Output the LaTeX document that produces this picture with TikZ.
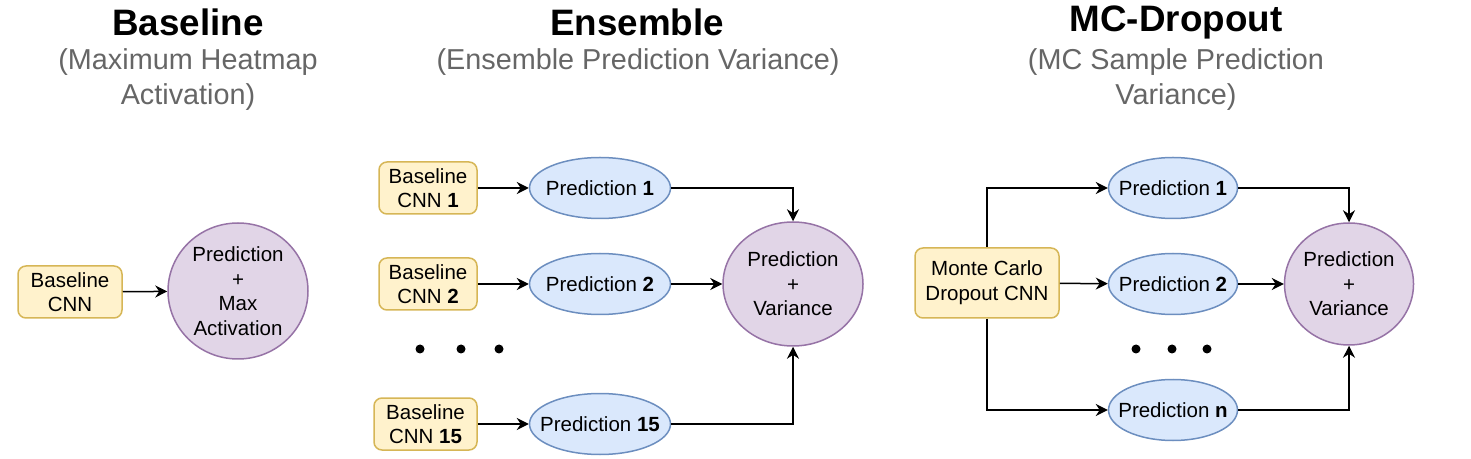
\documentclass[tikz,border=0pt]{standalone}
\usepackage{fontspec}
\setmainfont{Liberation Sans}
\usepackage{xcolor}
\usetikzlibrary{positioning, arrows.meta, shapes.geometric}
\definecolor{cnnFill}{HTML}{FFF2CC}
\definecolor{cnnLine}{HTML}{D6B656}
\definecolor{predFill}{HTML}{DAE8FC}
\definecolor{predLine}{HTML}{6C8EBF}
\definecolor{outFill}{HTML}{E1D5E7}
\definecolor{outLine}{HTML}{9673A6}
\definecolor{subGray}{HTML}{666666}

\begin{document}
\begin{tikzpicture}[x=0.5pt, y=-0.5pt,
    font=\fontsize{10.25}{12.3}\selectfont,
    cnnbox/.style={draw=cnnLine, fill=cnnFill, line width=0.75pt, rounded corners=4pt, align=center, inner sep=0pt, minimum height=26pt},
    predbox/.style={ellipse, draw=predLine, fill=predFill, line width=0.75pt, inner sep=-8pt, minimum width=70.5pt, minimum height=30.5pt},
    outbox/.style={ellipse, draw=outLine, fill=outFill, line width=0.75pt, inner sep=-8pt, align=center},
    title/.style={font=\fontsize{18.4}{22}\selectfont\bfseries},
    subtitle/.style={font=\fontsize{14.4}{17.5}\selectfont, text=subGray, align=center},
    arr/.style={-{Stealth[length=6pt, width=6pt]}, line width=0.75pt},
    dot/.style={circle, fill=black, inner sep=0pt, minimum size=4.5pt}]
    \useasboundingbox (0,0) rectangle (1471,459);

    % Titles
    \node[title] (tBase) at (188,22) {Baseline};
    \node[subtitle] (sBase) at (188,80) {(Maximum Heatmap\\Activation)};
    \node[title] (tEns) at (637,22) {Ensemble};
    \node[subtitle] (sEns) at (638,62) {(Ensemble Prediction Variance)};
    \node[title] (tMc) at (1176,22) {MC-Dropout};
    \node[subtitle] (sMc) at (1176,80) {(MC Sample Prediction\\Variance)};

    % Baseline
    \node[cnnbox, minimum width=52pt] (baseCnn) at (70,292) {Baseline\\CNN};
    \node[outbox, minimum width=70pt, minimum height=68pt] (baseOut) at (238,291) {Prediction\\+\\Max\\Activation};
    \draw[arr] (baseCnn) -- (baseOut);

    % Ensemble
    \node[cnnbox, minimum width=49pt] (ensCnnA) at (428,188) {Baseline\\CNN \textbf{1}};
    \node[cnnbox, minimum width=49pt] (ensCnnB) at (428,284) {Baseline\\CNN \textbf{2}};
    \node[cnnbox, minimum width=51.5pt] (ensCnnC) at (425.5,424) {Baseline\\CNN \textbf{15}};
    \node[predbox] (ensPredA) at (600,188) {Prediction \textbf{1}};
    \node[predbox] (ensPredB) at (600,284) {Prediction \textbf{2}};
    \node[predbox] (ensPredC) at (600,424) {Prediction \textbf{15}};
    \node[outbox, minimum width=70pt, minimum height=62pt] (ensOut) at (793,284) {Prediction\\+\\Variance};
    \foreach \px in {420,461,499}
        \node[dot] at (\px,349) {};
    \draw[arr] (ensCnnA) -- (ensPredA);
    \draw[arr] (ensCnnB) -- (ensPredB);
    \draw[arr] (ensCnnC) -- (ensPredC);
    \draw[arr] (ensPredA.east) -| (ensOut.north);
    \draw[arr] (ensPredB) -- (ensOut);
    \draw[arr] (ensPredC.east) -| (ensOut.south);

    % MC-Dropout
    \node[cnnbox, minimum width=72pt, minimum height=35pt] (mcCnn) at (987,283) {Monte Carlo\\Dropout CNN};
    \node[predbox, minimum width=64.5pt] (mcPredA) at (1173,188) {Prediction \textbf{1}};
    \node[predbox, minimum width=64.5pt] (mcPredB) at (1173,284) {Prediction \textbf{2}};
    \node[predbox, minimum width=64.5pt] (mcPredN) at (1173,410) {Prediction \textbf{n}};
    \node[outbox, minimum width=64.5pt, minimum height=61pt] (mcOut) at (1349,284) {Prediction\\+\\Variance};
    \foreach \px in {1136,1172,1207}
        \node[dot] at (\px,349) {};
    \draw[arr] (mcCnn.north) |- (mcPredA.west);
    \draw[arr] (mcCnn) -- (mcPredB);
    \draw[arr] (mcCnn.south) |- (mcPredN.west);
    \draw[arr] (mcPredA.east) -| (mcOut.north);
    \draw[arr] (mcPredB) -- (mcOut);
    \draw[arr] (mcPredN.east) -| (mcOut.south);
\end{tikzpicture}
\end{document}
